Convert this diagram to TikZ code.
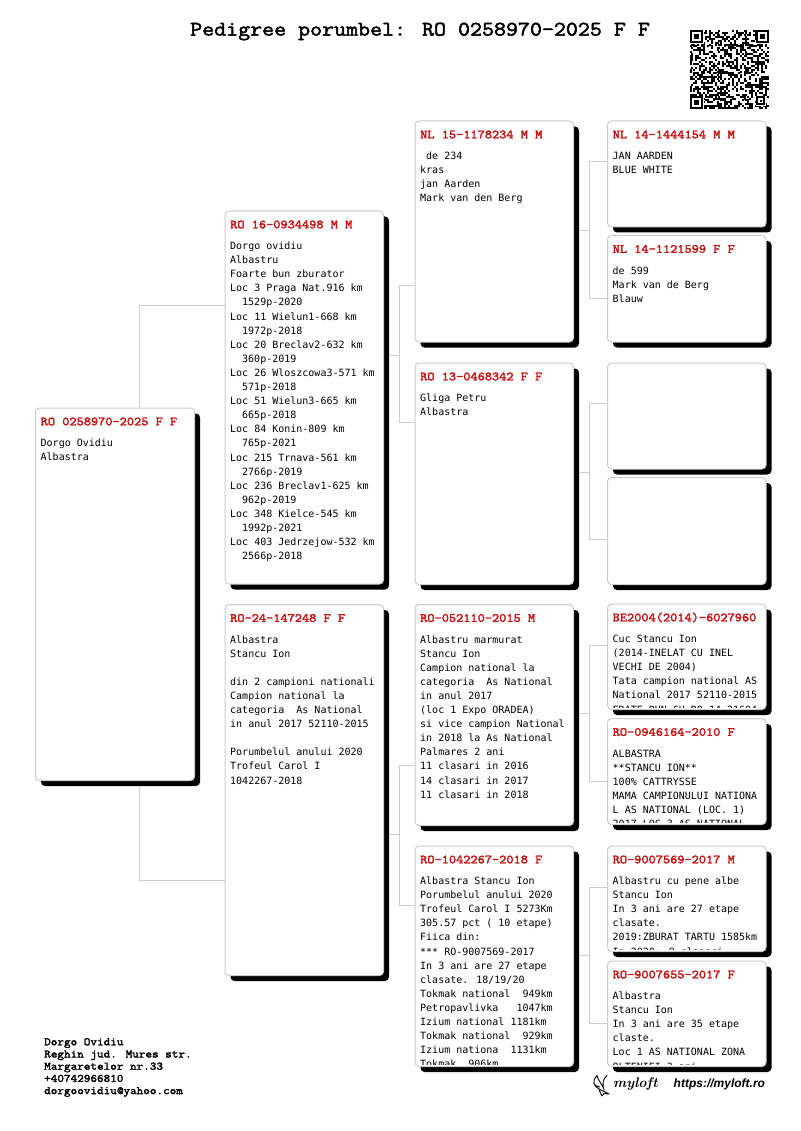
\documentclass[tikz,border=0pt]{standalone}
\usepackage{fontspec}
\usetikzlibrary{shadows,backgrounds}
\newfontfamily\pedmono{DejaVu Sans Mono}
\newfontfamily\pedsans{Liberation Sans}
\newfontfamily\pedslab{Latin Modern Mono}[FakeBold=2.4,FakeStretch=1.125]
\definecolor{pedred}{RGB}{200,16,16}
\definecolor{pedline}{RGB}{204,204,204}
\tikzset{
  pbox/.style={draw=pedline,line width=1pt,fill=white,rounded corners=4pt,inner sep=0pt,
    drop shadow={shadow xshift=5.5pt,shadow yshift=-5.5pt,fill=black,opacity=1}},
  phead/.style={inner sep=0pt,text=pedred,font=\pedslab\fontsize{12.4}{14}\selectfont},
  pbody/.style={inner sep=0pt,align=left,text=black,font=\pedmono\fontsize{10}{14.1}\selectfont},
  conn/.style={draw=pedline,line width=1pt},
  ptitle/.style={inner sep=0pt,font=\pedslab\fontsize{20.7}{24}\selectfont},
  pfoot/.style={inner sep=0pt,align=left,font=\pedslab\fontsize{11.4}{12.2}\selectfont}
}
% name, x, y, w, h, header, body
\newcommand{\pedbox}[7]{%
  \node[pbox,anchor=north west,minimum width=#4pt,minimum height=#5pt] (#1) at (#2,#3) {};
  \node[phead,anchor=west] (#1-h) at (#2+5.5,#3+14) {#6};
  \begin{scope}
    \clip (#2,#3) rectangle (#2+#4,#3+#5-1.5);
    \node[pbody,anchor=north west] (#1-t) at (#2+5.5,#3+29) {\strut #7};
  \end{scope}
}
% parent, x, stub y, top y, bottom y, child1, child2
\newcommand{\pedfork}[7]{%
  \coordinate (#1-s) at (#2,#3);
  \coordinate (#1-a) at (#2,#4);
  \coordinate (#1-b) at (#2,#5);
  \draw[conn] (#1.east |- #1-s) -- (#1-s);
  \draw[conn] (#6.west |- #1-a) -- (#1-a) -- (#1-b) -- (#7.west |- #1-b);
}
\begin{document}
\begin{tikzpicture}[x=1pt,y=-1pt]
\useasboundingbox (0,0) rectangle (800,1131);

\node[ptitle,anchor=west] (title) at (190,31.5) {Pedigree porumbel: RO 0258970-2025 F F};

\pedbox{main}{35}{407.5}{159}{372.5}{RO 0258970-2025 F F}{Dorgo Ovidiu\\Albastra}

\pedbox{ro16}{224.5}{210.5}{158.5}{373}{RO 16-0934498 M M}{Dorgo ovidiu\\Albastru\\Foarte bun zburator\\Loc 3 Praga Nat.916 km\\\hspace*{12pt}1529p-2020\\Loc 11 Wielun1-668 km\\\hspace*{12pt}1972p-2018\\Loc 20 Breclav2-632 km\\\hspace*{12pt}360p-2019\\Loc 26 Wloszcowa3-571 km\\\hspace*{12pt}571p-2018\\Loc 51 Wielun3-665 km\\\hspace*{12pt}665p-2018\\Loc 84 Konin-809 km\\\hspace*{12pt}765p-2021\\Loc 215 Trnava-561 km\\\hspace*{12pt}2766p-2019\\Loc 236 Breclav1-625 km\\\hspace*{12pt}962p-2019\\Loc 348 Kielce-545 km\\\hspace*{12pt}1992p-2021\\Loc 403 Jedrzejow-532 km\\\hspace*{12pt}2566p-2018}

\pedbox{ro24}{224.5}{604}{158.5}{371}{RO-24-147248 F F}{Albastra\\Stancu Ion\\[14.1pt]din 2 campioni nationali\\Campion national la\\categoria~~As National\\in anul 2017 52110-2015\\[14.1pt]Porumbelul anului 2020\\Trofeul Carol I\\1042267-2018}

\pedbox{nl15}{414.5}{120.5}{158.5}{221}{NL 15-1178234 M M}{\hspace*{6pt}de 234\\kras\\jan Aarden\\Mark van den Berg}

\pedbox{ro13}{414.5}{362.5}{158.5}{221.5}{RO 13-0468342 F F}{Gliga Petru\\Albastra}

\pedbox{r052}{414.5}{604}{158.5}{221}{RO-052110-2015 M}{Albastru marmurat\\Stancu Ion\\Campion national la\\categoria~~As National\\in anul 2017\\(loc 1 Expo ORADEA)\\si vice campion National\\in 2018 la As National\\Palmares 2 ani\\11 clasari in 2016\\14 clasari in 2017\\11 clasari in 2018}

\pedbox{r104}{414.5}{845.5}{158.5}{220.5}{RO-1042267-2018 F}{Albastra Stancu Ion\\Porumbelul anului 2020\\Trofeul Carol I 5273Km\\305.57 pct ( 10 etape)\\Fiica din:\\*** RO-9007569-2017\\In 3 ani are 27 etape\\clasate. 18/19/20\\Tokmak national~~949km\\Petropavlivka~~~1047km\\Izium national 1181km\\Tokmak national~~929km\\Izium nationa~~1131km\\Tokmak~~906km}

\pedbox{a1}{607}{120.5}{158.5}{106}{NL 14-1444154 M M}{JAN AARDEN\\BLUE WHITE}
\pedbox{a2}{607}{235}{158.5}{106.5}{NL 14-1121599 F F}{de 599\\Mark van de Berg\\Blauw}
\node[pbox,anchor=north west,minimum width=158.5pt,minimum height=106pt] (a3) at (607,362.5) {};
\node[pbox,anchor=north west,minimum width=158.5pt,minimum height=107pt] (a4) at (607,477) {};
\pedbox{a5}{607}{603.5}{158.5}{105.5}{BE2004(2014)-6027960}{Cuc Stancu Ion\\(2014-INELAT CU INEL\\VECHI DE 2004)\\Tata campion national AS\\National 2017 52110-2015\\FRATE BUN CU RO 14-21604}
\pedbox{a6}{607}{718}{158.5}{106}{RO-0946164-2010 F}{ALBASTRA\\**STANCU ION**\\100\% CATTRYSSE\\MAMA CAMPIONULUI NATIONA\\L AS NATIONAL (LOC. 1)\\2017 LOC 3 AS NATIONAL}
\pedbox{a7}{607}{845.5}{158.5}{105.5}{RO-9007569-2017 M}{Albastru cu pene albe\\Stancu Ion\\In 3 ani are 27 etape\\clasate.\\2019:ZBURAT TARTU 1585km\\In 2020: 9 clasari}
\pedbox{a8}{607}{960.5}{158.5}{105.5}{RO-9007655-2017 F}{Albastra\\Stancu Ion\\In 3 ani are 35 etape\\claste.\\Loc 1 AS NATIONAL ZONA\\OLTENIEI 3 ani}

\node[pfoot,anchor=north west] (foot) at (44,1038) {Dorgo Ovidiu\\Reghin jud. Mures str.\\Margaretelor nr.33\\+40742966810\\dorgoovidiu@yahoo.com};

% QR
\begin{scope}[shift={(689.5,30)}]
  \pgfmathsetseed{4711}
  \foreach \i in {0,...,40}{\foreach \j in {0,...,40}{%
    \pgfmathrandominteger{\qrbit}{0}{9}%
    \ifnum\qrbit>4\relax
      \fill[black] (\i*1.93,\j*1.93) rectangle (\i*1.93+2,\j*1.93+2);
    \fi}}
  \foreach \fx/\fy in {0/0,66.5/0,0/66.5}{%
    \fill[white] (\fx-.5,\fy-.5) rectangle (\fx+14,\fy+14);
    \fill[black] (\fx,\fy) rectangle (\fx+13,\fy+13);
    \fill[white] (\fx+2,\fy+2) rectangle (\fx+11,\fy+11);
    \fill[black] (\fx+4,\fy+4) rectangle (\fx+9,\fy+9);}
  \fill[white] (66,66) rectangle (76,76);
  \fill[black] (66.5,66.5) rectangle (75.5,75.5);
  \fill[white] (68.5,68.5) rectangle (73.5,73.5);
  \fill[black] (70,70) rectangle (72,72);
\end{scope}

% logo
\draw[black,line width=.9pt,line cap=round,line join=round]
  (597,1075.5) .. controls (592,1080) and (593,1086) .. (599,1089)
  .. controls (602,1091) and (606,1092) .. (609,1094)
  (609,1094) -- (604,1093.5) -- (602,1096) -- (599,1090)
  (597,1075.5) .. controls (598,1080) and (601,1083) .. (603,1087)
  (607,1075.5) .. controls (603,1079) and (602,1083) .. (604,1090)
  (594,1084) .. controls (596,1086) and (598,1087) .. (600,1087);
\node[inner sep=0pt,anchor=west,font=\rmfamily\itshape\bfseries\fontsize{14}{14}\selectfont] (mylogo) at (613,1084) {myloft};
\node[inner sep=0pt,anchor=west,font=\pedsans\bfseries\itshape\fontsize{12}{14}\selectfont] (myurl) at (673.5,1084) {https://myloft.ro};

\begin{scope}[on background layer]
  \fill[white] (0,0) rectangle (800,1131);
  \coordinate (j0a) at (139.5,305);
  \coordinate (j0b) at (139.5,880.5);
  \draw[conn] (main.north -| j0a) -- (j0a) -- (ro16.west |- j0a);
  \draw[conn] (main.south -| j0b) -- (j0b) -- (ro24.west |- j0b);
  \pedfork{ro16}{399.5}{355}{286}{422}{nl15}{ro13}
  \pedfork{ro24}{399.5}{834}{765}{905}{r052}{r104}
  \pedfork{nl15}{589.5}{231}{162}{298}{a1}{a2}
  \pedfork{ro13}{589.5}{472}{403}{539}{a3}{a4}
  \pedfork{r052}{589.5}{713}{645}{781}{a5}{a6}
  \pedfork{r104}{589.5}{955}{887}{1023}{a7}{a8}
\end{scope}
\end{tikzpicture}
\end{document}
